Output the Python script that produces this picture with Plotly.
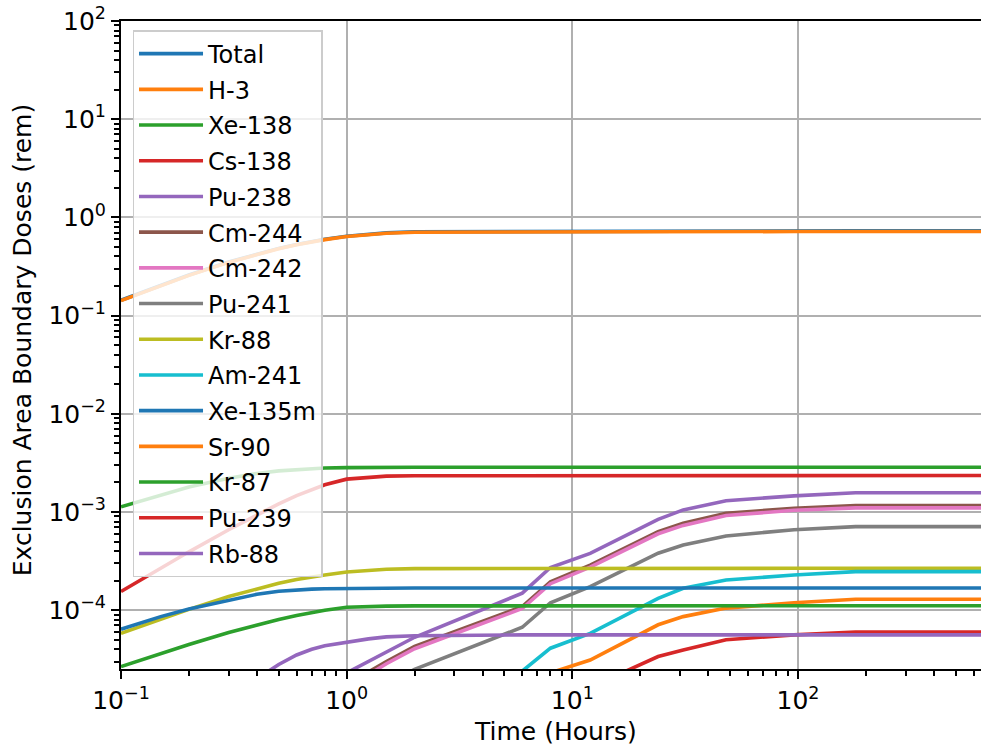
import plotly.graph_objects as go

# ---------------- data ----------------
time_h = [0.1, 0.15, 0.2, 0.3, 0.4, 0.5, 0.6, 0.7, 0.8, 1.0, 1.25, 1.5, 2, 6, 8, 12, 24, 31, 48, 96, 180, 720]

total   = [0.1433, 0.2038, 0.2593, 0.3507, 0.4243, 0.4836, 0.5300, 0.5683, 0.5987, 0.6432, 0.6767, 0.6960,
           0.7133, 0.7210, 0.7225, 0.7240, 0.7265, 0.7275, 0.7290, 0.7297, 0.7305, 0.7306]
h3      = [0.142, 0.202, 0.257, 0.348, 0.421, 0.480, 0.526, 0.564, 0.594, 0.638, 0.671, 0.690,
           0.707, 0.714, 0.715, 0.716, 0.717, 0.717, 0.718, 0.718, 0.719, 0.719]
xe138   = [1.13e-3, 1.50e-3, 1.80e-3, 2.21e-3, 2.47e-3, 2.62e-3, 2.71e-3, 2.76e-3, 2.80e-3, 2.83e-3, 2.84e-3, 2.85e-3,
           2.85e-3, 2.85e-3, 2.85e-3, 2.85e-3, 2.85e-3, 2.85e-3, 2.85e-3, 2.85e-3, 2.85e-3, 2.85e-3]
cs138   = [1.55e-4, 2.68e-4, 3.93e-4, 6.59e-4, 9.37e-4, 1.21e-3, 1.47e-3, 1.70e-3, 1.89e-3, 2.16e-3, 2.27e-3, 2.32e-3,
           2.34e-3, 2.35e-3, 2.35e-3, 2.35e-3, 2.35e-3, 2.35e-3, 2.35e-3, 2.35e-3, 2.35e-3, 2.35e-3]
pu238   = [1.0e-6, 1.6e-6, 2.3e-6, 3.9e-6, 5.6e-6, 7.5e-6, 9.6e-6, 1.2e-5, 1.45e-5, 2.3e-5, 3.0e-5, 3.8e-5,
           5.3e-5, 1.49e-4, 2.72e-4, 3.79e-4, 8.4e-4, 1.05e-3, 1.30e-3, 1.46e-3, 1.57e-3, 1.57e-3]
cm244   = [6e-7, 1.0e-6, 1.5e-6, 2.6e-6, 3.8e-6, 5.2e-6, 6.8e-6, 8.6e-6, 1.05e-5, 1.6e-5, 2.35e-5, 3.0e-5,
           4.27e-5, 1.09e-4, 1.95e-4, 2.88e-4, 6.3e-4, 7.7e-4, 9.7e-4, 1.09e-3, 1.16e-3, 1.16e-3]
cm242   = [5.7e-7, 9.5e-7, 1.4e-6, 2.5e-6, 3.6e-6, 4.9e-6, 6.5e-6, 8.2e-6, 1.0e-5, 1.52e-5, 2.2e-5, 2.85e-5,
           4.05e-5, 1.04e-4, 1.86e-4, 2.75e-4, 6.0e-4, 7.3e-4, 9.2e-4, 1.04e-3, 1.10e-3, 1.10e-3]
pu241   = [3.5e-7, 5.5e-7, 8e-7, 1.5e-6, 2.3e-6, 3.2e-6, 4.2e-6, 5.3e-6, 6.5e-6, 9e-6, 1.3e-5, 1.7e-5,
           2.5e-5, 6.7e-5, 1.19e-4, 1.74e-4, 3.8e-4, 4.6e-4, 5.7e-4, 6.6e-4, 7.1e-4, 7.1e-4]
kr88    = [5.8e-5, 8.1e-5, 1.02e-4, 1.38e-4, 1.66e-4, 1.88e-4, 2.05e-4, 2.18e-4, 2.28e-4, 2.45e-4, 2.55e-4, 2.61e-4,
           2.65e-4, 2.67e-4, 2.67e-4, 2.67e-4, 2.67e-4, 2.67e-4, 2.67e-4, 2.67e-4, 2.67e-4, 2.67e-4]
am241   = [1.2e-7, 1.9e-7, 2.8e-7, 5e-7, 7.5e-7, 1.0e-6, 1.3e-6, 1.6e-6, 1.9e-6, 2.6e-6, 3.4e-6, 4.3e-6,
           6e-6, 2.4e-5, 4.1e-5, 5.8e-5, 1.32e-4, 1.67e-4, 2.03e-4, 2.28e-4, 2.47e-4, 2.47e-4]
xe135m  = [6.4e-5, 8.6e-5, 1.03e-4, 1.27e-4, 1.45e-4, 1.56e-4, 1.61e-4, 1.64e-4, 1.655e-4, 1.665e-4, 1.67e-4, 1.675e-4,
           1.68e-4, 1.68e-4, 1.68e-4, 1.68e-4, 1.68e-4, 1.68e-4, 1.68e-4, 1.68e-4, 1.68e-4, 1.68e-4]
sr90    = [6e-8, 9.5e-8, 1.4e-7, 2.5e-7, 3.8e-7, 5e-7, 6.5e-7, 8e-7, 9.5e-7, 1.3e-6, 1.7e-6, 2.2e-6,
           3e-6, 1.1e-5, 2.3e-5, 3.11e-5, 7.1e-5, 8.6e-5, 1.05e-4, 1.19e-4, 1.29e-4, 1.29e-4]
kr87    = [2.66e-5, 3.61e-5, 4.47e-5, 5.93e-5, 7.11e-5, 8.05e-5, 8.83e-5, 9.46e-5, 9.98e-5, 1.07e-4, 1.09e-4, 1.10e-4,
           1.105e-4, 1.11e-4, 1.11e-4, 1.11e-4, 1.11e-4, 1.11e-4, 1.11e-4, 1.11e-4, 1.11e-4, 1.11e-4]
pu239   = [3.5e-8, 5.5e-8, 8e-8, 1.4e-7, 2.1e-7, 2.8e-7, 3.6e-7, 4.4e-7, 5.2e-7, 7e-7, 9.5e-7, 1.2e-6,
           1.6e-6, 6e-6, 1.1e-5, 1.64e-5, 3.37e-5, 3.94e-5, 5.0e-5, 5.6e-5, 6.0e-5, 6.0e-5]
rb88    = [2e-6, 4e-6, 7e-6, 1.3e-5, 2.0e-5, 2.8e-5, 3.5e-5, 4.0e-5, 4.35e-5, 4.75e-5, 5.1e-5, 5.35e-5,
           5.5e-5, 5.6e-5, 5.6e-5, 5.6e-5, 5.6e-5, 5.6e-5, 5.6e-5, 5.6e-5, 5.6e-5, 5.6e-5]

series_names = ["Total", "H-3", "Xe-138", "Cs-138", "Pu-238", "Cm-244", "Cm-242", "Pu-241",
                "Kr-88", "Am-241", "Xe-135m", "Sr-90", "Kr-87", "Pu-239", "Rb-88"]
series_values = [total, h3, xe138, cs138, pu238, cm244, cm242, pu241,
                 kr88, am241, xe135m, sr90, kr87, pu239, rb88]

x_tick_vals = [0.1, 1, 10, 100]
x_tick_text = ["10<sup>−1</sup>", "10<sup>0</sup>", "10<sup>1</sup>", "10<sup>2</sup>"]
y_tick_vals = [1e-4, 1e-3, 1e-2, 1e-1, 1, 10, 100]
y_tick_text = ["10<sup>−4</sup>", "10<sup>−3</sup>", "10<sup>−2</sup>", "10<sup>−1</sup>",
               "10<sup>0</sup>", "10<sup>1</sup>", "10<sup>2</sup>"]

# ---------------- style ----------------
palette = ["#1f77b4", "#ff7f0e", "#2ca02c", "#d62728", "#9467bd", "#8c564b", "#e377c2",
           "#7f7f7f", "#bcbd22", "#17becf"]
FONT = "DejaVu Sans"
FS = 25

fig = go.Figure()
for i, (name, vals) in enumerate(zip(series_names, series_values)):
    fig.add_trace(go.Scatter(
        x=time_h, y=vals, mode="lines", name=name,
        line=dict(color=palette[i % 10], width=3.6),
        legendgroup=name,
    ))

minor_x = [m * 10 ** e for e in range(-1, 3) for m in range(2, 10)]
minor_y = [m * 10 ** e for e in range(-5, 2) for m in range(2, 10)]

fig.update_layout(
    width=981, height=752,
    margin=dict(l=121, r=0, t=21, b=83, autoexpand=False),
    plot_bgcolor="white", paper_bgcolor="white",
    font=dict(family=FONT, size=FS, color="black"),
    showlegend=True,
    legend=dict(
        x=0.0134, y=0.986, xanchor="left", yanchor="top",
        bgcolor="rgba(255,255,255,0.8)", bordercolor="#cccccc", borderwidth=1.5,
        font=dict(family=FONT, size=24, color="black"),
        tracegroupgap=1.5, itemwidth=64,
    ),
    xaxis=dict(
        type="log", range=[-1, 2.811], automargin=False,
        tickmode="array", tickvals=x_tick_vals, ticktext=x_tick_text,
        ticks="outside", ticklen=8, tickwidth=2, tickcolor="black",
        tickfont=dict(family=FONT, size=FS, color="black"),
        showline=True, linecolor="black", linewidth=2, mirror=True,
        showgrid=True, gridcolor="#b0b0b0", gridwidth=1.6,
        zeroline=False,
        minor=dict(tickmode="array", tickvals=minor_x, ticks="outside", ticklen=5,
                   tickwidth=1.5, tickcolor="black", showgrid=False),
    ),
    yaxis=dict(
        type="log", range=[-4.599, 2], automargin=False,
        tickmode="array", tickvals=y_tick_vals, ticktext=y_tick_text,
        ticks="outside", ticklen=8, tickwidth=2, tickcolor="black",
        tickfont=dict(family=FONT, size=FS, color="black"),
        showline=True, linecolor="black", linewidth=2, mirror=False,
        showgrid=True, gridcolor="#b0b0b0", gridwidth=1.6,
        zeroline=False,
        minor=dict(tickmode="array", tickvals=minor_y, ticks="outside", ticklen=5,
                   tickwidth=1.5, tickcolor="black", showgrid=False),
    ),
    annotations=[
        dict(text="Time (Hours)", xref="paper", yref="paper", x=0.505, y=-0.0972,
             xanchor="center", yanchor="middle", showarrow=False,
             font=dict(family=FONT, size=FS, color="black")),
        dict(text="Exclusion Area Boundary Doses (rem)", xref="paper", yref="paper",
             x=-0.1146, y=0.508, xanchor="center", yanchor="middle", textangle=-90,
             showarrow=False, font=dict(family=FONT, size=FS, color="black")),
    ],
)

fig.write_html(
    "out.html",
    config={"displayModeBar": False},
    post_script="document.body.style.margin='0px';document.body.style.overflow='hidden';",
)
